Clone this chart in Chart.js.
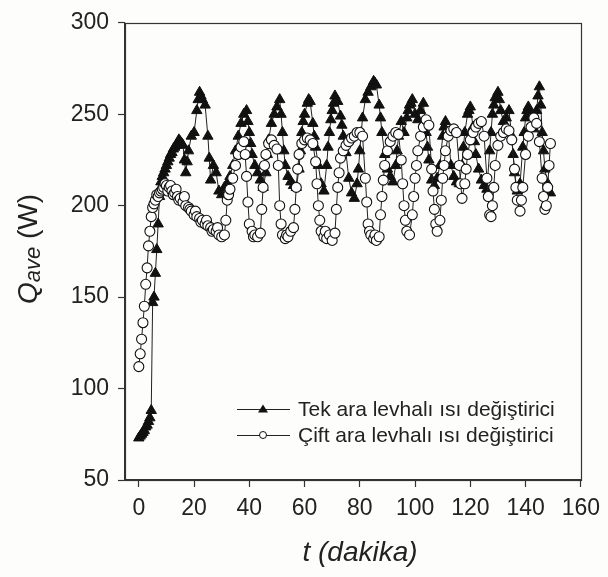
<!DOCTYPE html>
<html><head><meta charset="utf-8">
<script src="https://cdn.jsdelivr.net/npm/chart.js@4.4.0/dist/chart.umd.min.js"></script>
<style>html,body{margin:0;padding:0;background:#fdfdfb;}#wrap{width:608px;height:577px;position:relative;}</style>
</head><body><div id="wrap"><canvas id="c" width="608" height="577"></canvas></div>
<script>
// time (minutes) and Q_ave (W) for "Tek ara levhalı ısı değiştirici"
const tTek = [0,0.5,1,1.5,2,2.5,3,3.5,4,4.5,5,5.5,6,6.5,7,7.5,
  8,9,
  10,11,12,13,14,15,16,17,18,19,
  20,21,22,23,24,25,26,27,28,29,
  30,31,32,33,34,35,36,37,38,39,
  40,41,42,43,44,45,46,47,48,49,
  50,51,52,53,54,55,56,57,58,59,
  60,61,62,63,64,65,66,67,68,69,
  70,71,72,73,74,75,76,77,78,79,
  80,81,82,83,84,85,86,87,88,89,
  90,91,92,93,94,95,96,97,98,99,
  100,101,102,103,104,105,106,107,108,109,
  110,111,112,113,114,115,116,117,118,119,
  120,121,122,123,124,125,126,127,128,129,
  130,131,132,133,134,135,136,137,138,139,
  140,141,142,143,144,145,146,147,148,149];
const qTek = [73,74,75,76,77,79,80,82,84,88,147,150,163,176,190,205,
  213,218,
  222,226,229,232,234,235,233,218,230,238,
  240,252,262,258,255,238,214,222,218,208,
  206,210,212,216,222,230,238,245,250,252,
  240,228,222,218,214,210,218,236,245,250,
  254,258,240,222,216,213,211,210,220,240,
  250,256,257,245,232,222,212,208,222,240,
  252,260,257,249,238,229,215,207,204,212,
  230,248,258,262,265,268,266,255,240,228,
  220,216,213,222,238,246,240,248,255,258,
  250,247,252,256,240,225,214,211,215,222,
  238,246,240,222,216,213,212,222,240,250,
  254,243,228,220,214,211,209,230,250,259,
  262,252,246,248,252,238,218,208,212,232,
  248,254,250,242,252,265,240,220,212,207];
// additional half-minute readings of the same series
const tTekHalf = [8.5,9.5,10.5,11.5,12.5,13.5,14.5,15.5,16.5,17.5,21.5,22.5,25.5,39.5,40.5,46.5,51.5,52.5,58.5,59.5,61.5,63.5,68.5,69.5,70.5,73.5,79.5,80.5,84.5,85.5,87.5,93.5,97.5,98.5,104.5,110.5,117.5,119.5,121.5,127.5,128.5,130.5,135.5,139.5,140.5,144.5,145.5,146.5];
const qTekHalf = [216,220,224,228,231,233,236,234,225,224,258,260,226,246,234,228,250,230,230,246,258,238,232,247,256,244,220,240,266,267,248,230,252,256,232,243,232,252,235,240,255,258,228,240,252,260,255,230];

// time (minutes) and Q_ave (W) for "Çift ara levhalı ısı değiştirici"
const tCift = [0,0.5,1,1.5,2,2.5,3,3.5,4,4.5,
  5,6,7,8,9,
  10,11,12,13,14,15,16,17,18,19,
  20,21,22,23,24,25,26,27,28,29,
  30,31,32,33,34,35,36,37,38,39,
  40,41,42,43,44,45,46,47,48,49,
  50,51,52,53,54,55,56,57,58,59,
  60,61,62,63,64,65,66,67,68,69,
  70,71,72,73,74,75,76,77,78,79,
  80,81,82,83,84,85,86,87,88,89,
  90,91,92,93,94,95,96,97,98,99,
  100,101,102,103,104,105,106,107,108,109,
  110,111,112,113,114,115,116,117,118,119,
  120,121,122,123,124,125,126,127,128,129,
  130,131,132,133,134,135,136,137,138,139,
  140,141,142,143,144,145,146,147,148,149];
const qCift = [112,119,127,136,145,157,166,178,186,194,
  199,203,205,208,210,
  211,210,208,207,205,204,202,200,199,197,
  195,194,193,192,190,189,188,187,186,184,
  183,184,203,209,215,222,228,232,235,216,
  190,186,184,183,185,210,228,234,236,233,
  231,200,184,182,183,186,188,210,228,234,
  236,237,236,234,224,200,186,183,182,184,
  181,185,210,226,230,233,235,237,238,240,
  240,238,215,190,184,182,181,183,205,222,
  230,235,238,240,239,225,200,186,184,195,
  215,230,238,243,247,244,220,198,186,192,
  215,230,238,241,242,240,222,204,212,228,
  236,240,243,245,246,238,215,195,200,222,
  233,238,240,242,241,236,220,203,197,210,
  228,238,243,248,245,235,215,198,210,234];
// additional half-minute readings of the same series
const tCiftHalf = [5.5,6.5,7.5,8.5,9.5,10.5,11.5,12.5,13.5,14.5,16.5,18.5,20.5,22.5,24.5,26.5,28.5,31.5,32.5,38.5,39.5,41.5,44.5,45.5,50.5,51.5,53.5,56.5,57.5,64.5,65.5,67.5,71.5,72.5,82.5,83.5,85.5,87.5,88.5,95.5,96.5,99.5,100.5,106.5,107.5,109.5,110.5,116.5,118.5,126.5,127.5,128.5,136.5,138.5,146.5,147.5,148.5];
const qCiftHalf = [201,206,207,209,212,208,211,206,209,203,205,198,197,191,192,186,188,192,206,228,202,183,198,222,222,190,184,198,220,212,192,186,198,218,202,186,184,195,214,212,192,205,222,208,190,203,222,212,220,205,194,210,210,203,205,200,222];

const xTicks = [0,20,40,60,80,100,120,140,160];
const yTicks = [50,100,150,200,250,300];
const seriesNames = ["Tek ara levhalı ısı değiştirici", "Çift ara levhalı ısı değiştirici"];
const xTitle = "t (dakika)";
const yTitleMain = "Q", yTitleSub = "ave", yTitleUnit = " (W)";

const FONT = "'Liberation Sans', Arial, Helvetica, sans-serif";
const INK = '#222';

function pts(ts, qs, ts2, qs2){
  const all = ts.map((t,i)=>({x:t, y:qs[i]})).concat(ts2.map((t,i)=>({x:t, y:qs2[i]})));
  return all.sort((a,b)=>a.x-b.x);
}

const extras = {
  id:'extras',
  beforeDraw(chart){
    const c = chart.ctx;
    c.save(); c.fillStyle = '#fdfdfb'; c.fillRect(0,0,chart.width,chart.height); c.restore();
  },
  afterDraw(chart){
    const c = chart.ctx, a = chart.chartArea;
    c.save();
    c.strokeStyle = '#333'; c.lineWidth = 1.2;
    c.strokeRect(Math.round(a.left)+0.5, Math.round(a.top)+0.5, Math.round(a.right-a.left), Math.round(a.bottom-a.top));
    c.fillStyle = INK;
    c.font = 'italic 28px ' + FONT;
    c.textAlign = 'center'; c.textBaseline = 'middle';
    c.fillText(xTitle, 360, 553);
    c.translate(37, 249);
    c.rotate(-Math.PI/2);
    c.textBaseline = 'alphabetic'; c.textAlign = 'left';
    const fMain = 'italic 28px ' + FONT, fSub = 'italic 22px ' + FONT, fUnit = '28px ' + FONT;
    c.font = fMain; const w1 = c.measureText(yTitleMain).width;
    c.font = fSub; const w2 = c.measureText(yTitleSub).width;
    c.font = fUnit; const w3 = c.measureText(yTitleUnit).width;
    let x0 = -(w1+w2+w3)/2;
    c.font = fMain; c.fillText(yTitleMain, x0, 0); x0 += w1;
    c.font = fSub; c.fillText(yTitleSub, x0, 3); x0 += w2;
    c.font = fUnit; c.fillText(yTitleUnit, x0, 0);
    c.setTransform(1,0,0,1,0,0);
    const rows = [409, 435];
    chart.data.datasets.forEach((ds, i) => {
      const y = rows[i];
      c.strokeStyle = '#222'; c.lineWidth = 1;
      c.beginPath(); c.moveTo(237, y+0.5); c.lineTo(290, y+0.5); c.stroke();
      c.beginPath();
      if (i===0){ c.moveTo(263, y-4.5); c.lineTo(268, y+3.5); c.lineTo(258, y+3.5); c.closePath(); c.fillStyle='#111'; c.fill(); }
      else { c.arc(263, y, 3.5, 0, Math.PI*2); c.fillStyle='#fff'; c.fill(); c.strokeStyle='#111'; c.stroke(); }
      c.fillStyle = INK; c.font = '21px ' + FONT; c.textAlign = 'left'; c.textBaseline = 'middle';
      c.fillText(seriesNames[i], 298, y+1);
    });
    c.restore();
  }
};

new Chart(document.getElementById('c'), {
  type: 'scatter',
  data: {
    datasets: [
      { label: seriesNames[0], data: pts(tTek, qTek, tTekHalf, qTekHalf), showLine: true,
        borderColor: '#222', borderWidth: 1, pointStyle: 'triangle', pointRadius: 6,
        pointBackgroundColor: '#111', pointBorderColor: '#111', pointBorderWidth: 1, order: 2 },
      { label: seriesNames[1], data: pts(tCift, qCift, tCiftHalf, qCiftHalf), showLine: true,
        borderColor: '#222', borderWidth: 1, pointStyle: 'circle', pointRadius: 5,
        pointBackgroundColor: '#fff', pointBorderColor: '#111', pointBorderWidth: 1.1, order: 1 }
    ]
  },
  options: {
    responsive: false, animation: false, devicePixelRatio: 1,
    layout: { padding: { top: 17, right: 23, left: 0, bottom: 0 } },
    plugins: { legend: { display: false }, tooltip: { enabled: false } },
    scales: {
      x: { type: 'linear', min: -5, max: 160,
        afterBuildTicks: s => { s.ticks = xTicks.map(v => ({ value: v })); },
        afterFit: s => { s.height = 97; },
        grid: { drawOnChartArea: false, drawTicks: true, tickLength: 7, color: '#333', tickWidth: 1.2 },
        border: { display: true, color: '#333', width: 1.2 },
        ticks: { font: { family: FONT, size: 23 }, color: INK, padding: 8, maxRotation: 0, autoSkip: false }
      },
      y: { type: 'linear', min: 50, max: 300,
        afterBuildTicks: s => { s.ticks = yTicks.map(v => ({ value: v })); },
        afterFit: s => { s.width = 125; },
        grid: { drawOnChartArea: false, drawTicks: true, tickLength: 7, color: '#333', tickWidth: 1.2 },
        border: { display: true, color: '#333', width: 1.2 },
        ticks: { font: { family: FONT, size: 23 }, color: INK, padding: 9 }
      }
    }
  },
  plugins: [extras]
});
</script></body></html>
